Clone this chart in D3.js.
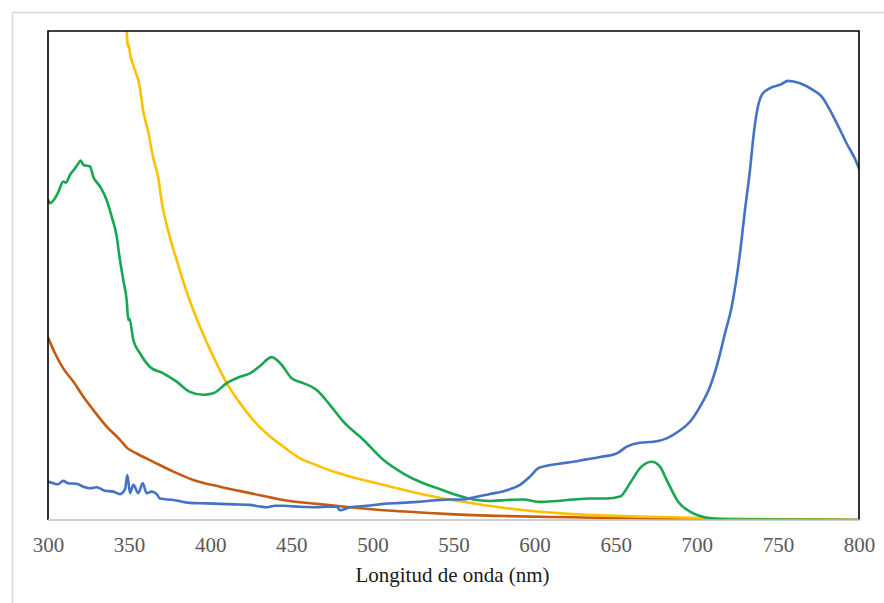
<!DOCTYPE html>
<html>
<head>
<meta charset="utf-8">
<script src="https://cdn.jsdelivr.net/npm/d3@7"></script>
<style>
  html, body { margin: 0; padding: 0; background: #fff; }
  svg { display: block; }
  .serif { font-family: "Liberation Serif", "Times New Roman", Tinos, "DejaVu Serif", "Noto Serif", serif; }
</style>
</head>
<body>
<svg id="chart" width="884" height="603"></svg>
<script>
// ---- DATA (wavelength in nm, absorbance in arbitrary units) ----
const xTicks = [300, 350, 400, 450, 500, 550, 600, 650, 700, 750, 800];
const xTitle = "Longitud de onda (nm)";

const blueWl  = [300.2, 303.3, 306.0, 309.4, 312.5, 317.7, 321.8, 325.9, 330.0, 335.1, 340.3, 344.4, 347.5, 348.9, 350.6, 352.6, 355.7, 358.4, 360.8, 363.9, 367.0, 369.0, 377.3, 387.5, 397.8, 406.0, 415.0, 424.5, 430.0, 434.8, 440.0, 445.1, 455.4, 465.7, 472.0, 478.0, 480.0, 486.2, 496.5, 506.7, 517.0, 527.3, 537.5, 547.8, 556.0, 562.2, 572.5, 582.8, 591.0, 597.2, 602.3, 607.5, 615.0, 623.9, 632.0, 640.3, 650.6, 656.8, 665.0, 673.2, 681.4, 688.6, 695.8, 702.0, 708.2, 713.3, 717.4, 721.5, 726.6, 729.7, 732.8, 734.9, 736.9, 740.0, 745.1, 751.3, 756.4, 763.6, 771.8, 777.0, 784.2, 792.4, 799.6, 800];
const blueAbs = [0.078, 0.075, 0.073, 0.080, 0.075, 0.074, 0.068, 0.065, 0.067, 0.060, 0.058, 0.053, 0.063, 0.092, 0.055, 0.072, 0.055, 0.075, 0.055, 0.058, 0.053, 0.044, 0.041, 0.035, 0.034, 0.033, 0.032, 0.031, 0.028, 0.026, 0.029, 0.029, 0.027, 0.026, 0.027, 0.027, 0.020, 0.026, 0.029, 0.033, 0.035, 0.037, 0.040, 0.042, 0.042, 0.046, 0.053, 0.061, 0.072, 0.089, 0.106, 0.111, 0.115, 0.119, 0.124, 0.129, 0.136, 0.150, 0.158, 0.160, 0.167, 0.181, 0.201, 0.232, 0.273, 0.327, 0.382, 0.436, 0.545, 0.634, 0.716, 0.784, 0.832, 0.869, 0.883, 0.890, 0.898, 0.893, 0.879, 0.866, 0.825, 0.770, 0.722, 0.718];

const greenWl  = [300.2, 301.2, 304.3, 306.4, 309.4, 311.0, 313.6, 316.6, 318.7, 320.2, 321.8, 325.9, 327.9, 332.1, 336.2, 339.3, 342.4, 344.0, 346.4, 348.5, 349.5, 350.2, 352.6, 356.7, 362.9, 371.1, 379.3, 387.5, 395.7, 401.9, 410.2, 418.4, 424.5, 430.7, 437.9, 444.1, 450.2, 457.4, 465.7, 473.9, 482.1, 494.4, 506.7, 519.1, 531.4, 541.7, 552.0, 562.2, 572.5, 582.8, 593.0, 603.3, 613.6, 623.9, 634.2, 644.4, 652.7, 658.8, 665.0, 672.2, 677.3, 681.4, 688.6, 695.8, 702.0, 710.0, 722.0, 800.0];
const greenAbs = [0.654, 0.648, 0.658, 0.671, 0.692, 0.690, 0.706, 0.719, 0.729, 0.735, 0.726, 0.723, 0.702, 0.682, 0.654, 0.620, 0.579, 0.540, 0.491, 0.450, 0.409, 0.412, 0.368, 0.341, 0.313, 0.300, 0.283, 0.262, 0.256, 0.259, 0.280, 0.293, 0.300, 0.315, 0.333, 0.317, 0.290, 0.280, 0.266, 0.235, 0.201, 0.164, 0.123, 0.095, 0.075, 0.063, 0.051, 0.042, 0.039, 0.041, 0.042, 0.037, 0.039, 0.042, 0.044, 0.044, 0.048, 0.075, 0.106, 0.119, 0.109, 0.082, 0.037, 0.017, 0.008, 0.003, 0.001, 0.0];

const yellowWl  = [348.3, 349.0, 349.4, 349.8, 350.5, 352.6, 356.7, 358.4, 361.8, 364.9, 368.0, 370.1, 373.2, 379.3, 386.5, 393.7, 401.9, 410.2, 418.4, 426.6, 434.8, 445.1, 455.4, 465.7, 475.9, 486.2, 506.7, 527.3, 543.7, 562.2, 582.8, 603.3, 623.8, 644.4, 664.9, 685.5, 720.0, 760.0, 800.0];
const yellowAbs = [1.02, 0.975, 0.968, 0.972, 0.955, 0.930, 0.883, 0.842, 0.794, 0.740, 0.699, 0.651, 0.603, 0.532, 0.457, 0.395, 0.334, 0.280, 0.239, 0.204, 0.177, 0.150, 0.126, 0.112, 0.099, 0.089, 0.072, 0.055, 0.044, 0.034, 0.024, 0.017, 0.012, 0.009, 0.007, 0.0055, 0.003, 0.001, 0.0];

const orangeWl  = [300.2, 304.3, 309.4, 315.6, 321.8, 327.9, 336.2, 344.4, 348.9, 354.7, 364.9, 377.3, 389.6, 406.0, 424.5, 445.1, 465.7, 486.2, 506.7, 527.3, 547.8, 582.8, 623.9, 665.0, 700.0, 750.0, 800.0];
const orangeAbs = [0.372, 0.341, 0.310, 0.283, 0.252, 0.225, 0.191, 0.164, 0.147, 0.136, 0.119, 0.099, 0.082, 0.068, 0.055, 0.041, 0.033, 0.026, 0.020, 0.016, 0.012, 0.008, 0.0055, 0.0035, 0.002, 0.001, 0.0];

const seriesColors = ["#4472C4", "#17A652", "#FFC000", "#C55A11"];

// ---- LAYOUT ----
const svg = d3.select("#chart");
const W = 884, H = 603;
const plot = { left: 48, top: 31, right: 859, bottom: 520 };
const serifStack = '"Liberation Serif", "Times New Roman", Tinos, "DejaVu Serif", "Noto Serif", serif';

svg.append("rect").attr("x", 0).attr("y", 0).attr("width", W).attr("height", H).attr("fill", "#fff");
svg.append("rect")
  .attr("x", 12.5).attr("y", 12.5).attr("width", W).attr("height", H)
  .attr("fill", "none").attr("stroke", "#d9d9d9").attr("stroke-width", 1.5);

const x = d3.scaleLinear().domain([300, 800]).range([plot.left, plot.right]);
const y = d3.scaleLinear().domain([0, 1]).range([plot.bottom, plot.top]);

svg.append("defs").append("clipPath").attr("id", "clip")
  .append("rect").attr("x", plot.left).attr("y", plot.top)
  .attr("width", plot.right - plot.left).attr("height", plot.bottom - plot.top);

const series = [
  { wl: orangeWl, v: orangeAbs, c: seriesColors[3] },
  { wl: yellowWl, v: yellowAbs, c: seriesColors[2] },
  { wl: greenWl,  v: greenAbs,  c: seriesColors[1] },
  { wl: blueWl,   v: blueAbs,   c: seriesColors[0] }
];

const line = d3.line()
  .x(d => x(d[0]))
  .y(d => y(d[1]))
  .curve(d3.curveMonotoneX);

const g = svg.append("g").attr("clip-path", "url(#clip)");
series.forEach(s => {
  const pts = s.wl.map((w, i) => [w, s.v[i]]);
  g.append("path").datum(pts)
    .attr("d", line)
    .attr("fill", "none")
    .attr("stroke", s.c)
    .attr("stroke-width", 2.6)
    .attr("stroke-linejoin", "round")
    .attr("stroke-linecap", "round");
});

svg.append("path")
  .attr("d", `M${plot.left},${plot.bottom} V${plot.top} H${plot.right} V${plot.bottom}`)
  .attr("fill", "none").attr("stroke", "#000").attr("stroke-width", 1.6);
svg.append("line")
  .attr("x1", plot.left).attr("x2", plot.right + 0.8)
  .attr("y1", plot.bottom).attr("y2", plot.bottom)
  .attr("stroke", "#bfbfbf").attr("stroke-width", 1.5);

// x axis
const axis = d3.axisBottom(x).tickValues(xTicks).tickSize(0).tickPadding(0).tickFormat(d3.format("d"));
const ax = svg.append("g").attr("transform", `translate(0,${plot.bottom})`).call(axis);
ax.attr("font-family", null).attr("font-size", null);
ax.select(".domain").remove();
ax.selectAll("text")
  .attr("y", 32).attr("dy", null)
  .attr("class", "serif")
  .style("font-family", serifStack)
  .style("font-size", "21px")
  .attr("fill", "#595959");

svg.append("text")
  .attr("class", "serif")
  .attr("x", (plot.left + plot.right) / 2 - 1)
  .attr("y", 582)
  .attr("text-anchor", "middle")
  .style("font-family", serifStack)
  .style("font-size", "21px")
  .attr("fill", "#1a1a1a")
  .text(xTitle);
</script>
</body>
</html>
